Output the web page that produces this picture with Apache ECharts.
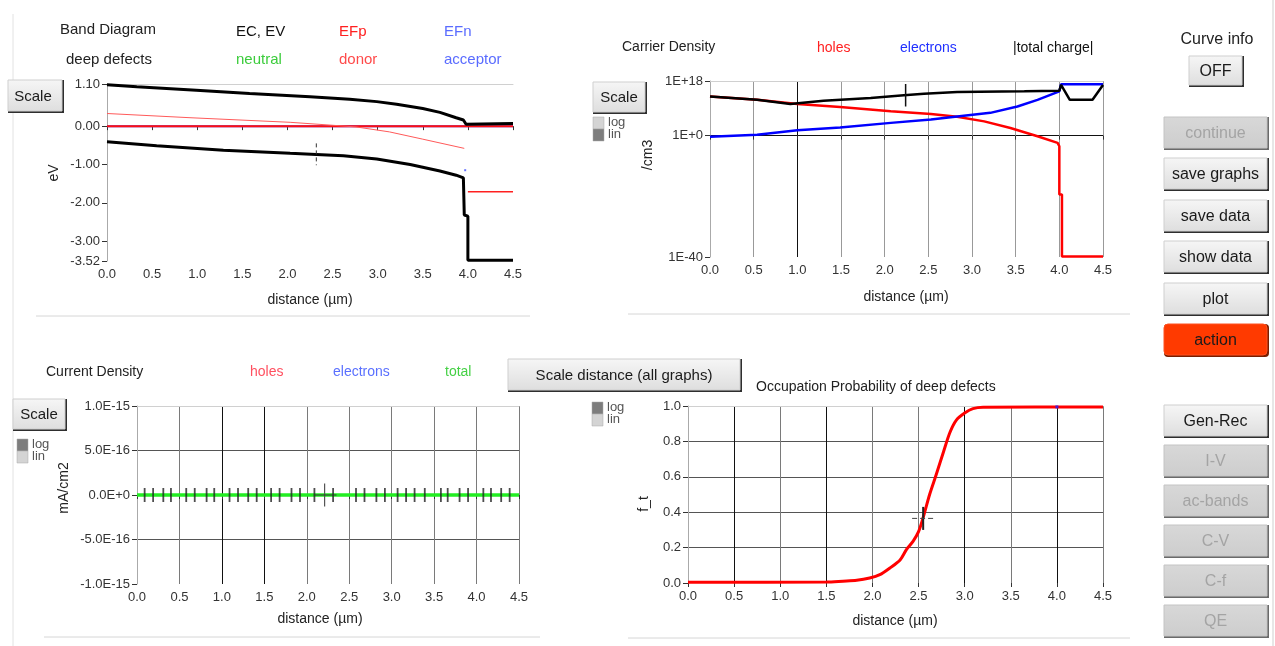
<!DOCTYPE html>
<html><head><meta charset="utf-8">
<script src="https://cdn.jsdelivr.net/npm/echarts@6/dist/echarts.min.js"></script>
<style>html,body{margin:0;padding:0;background:#fff;overflow:hidden}#c{width:1275px;height:646px;}</style>
</head><body><div id="c"></div>
<script>
// ---------------- DATA ----------------
// Band diagram (eV vs distance um)
const ecX = [0, 0.33, 0.99, 1.58, 2.25, 2.69, 2.99, 3.21, 3.50, 3.69, 3.87, 3.95, 3.98, 4.5];
const ecY = [1.08, 1.03, 0.94, 0.85, 0.77, 0.70, 0.64, 0.57, 0.46, 0.36, 0.22, 0.16, 0.05, 0.07];
const evX = [0, 0.55, 1.29, 2.03, 2.32, 2.62, 2.99, 3.36, 3.69, 3.87, 3.95, 3.96, 4.0, 4.0, 4.5];
const evY = [-0.41, -0.51, -0.63, -0.71, -0.74, -0.77, -0.86, -1.00, -1.17, -1.28, -1.35, -2.32, -2.35, -3.50, -3.50];
const efX = [0, 4.5];
const efpY = [0, 0];
const efnY = [0, 0];
const donorX = [0, 0.92, 2.03, 2.76, 3.13, 3.50, 3.96];
const donorY = [0.33, 0.22, 0.10, -0.02, -0.15, -0.34, -0.58];
const donorNX = [4.0, 4.5];
const donorNY = [-1.71, -1.71];
const acceptorX = [3.97];
const acceptorY = [-1.15];
const bandCursorX = [2.32, 2.32];
const bandCursorY = [-0.45, -1.02];
const bandTicks = [-3.52, -3, -2, -1, 0, 1.1];

// Carrier density (log10 of /cm3)
const holesX = [0, 0.54, 0.92, 1.0, 1.49, 2.07, 2.53, 2.83, 3.14, 3.44, 3.75, 3.98, 4.0, 4.0, 4.03, 4.03, 4.5];
const holesY = [12.9, 11.8, 10.7, 10.4, 9.4, 8.0, 7.1, 6.2, 4.7, 2.5, -0.2, -2.4, -3.5, -19.4, -19.4, -39.8, -39.8];
const electronsX = [0, 0.54, 1.0, 1.49, 2.07, 2.53, 2.83, 3.21, 3.52, 3.75, 4.0, 4.02, 4.5];
const electronsY = [-0.4, 0.3, 1.8, 2.7, 4.2, 5.3, 6.3, 7.5, 9.6, 11.8, 14.6, 16.9, 16.9];
const chargeX = [0, 0.54, 0.92, 1.30, 1.84, 2.22, 2.45, 2.83, 3.6, 4.0, 4.02, 4.12, 4.38, 4.5];
const chargeY = [12.9, 11.8, 10.4, 11.5, 12.4, 13.3, 13.8, 14.4, 14.6, 14.8, 16.7, 11.8, 11.8, 16.7];
const carrierCursorX = [2.24, 2.24];
const carrierCursorY = [17.0, 9.6];
const carrierTicks = [-40, 0, 18];

// Current density (mA/cm2)
const currentX = [0, 4.5];
const currentHoles = [0, 0];
const currentElectrons = [0, 0];
const currentTotal = [0, 0];
const currentMarksX = [0.09, 0.19, 0.31, 0.40, 0.58, 0.68, 0.82, 0.91, 1.09, 1.19, 1.31, 1.41, 1.58, 1.68, 1.82, 1.92, 2.09,
  2.31, 2.58, 2.68, 2.82, 2.92, 3.07, 3.17, 3.27, 3.39, 3.58, 3.66, 3.80, 3.90, 4.08, 4.17, 4.29, 4.39];
const currentCursorX = [2.21, 2.21];
const currentCursorY = [1.3e-16, -1.3e-16];
const currentCursorHX = [2.09, 2.35];
const currentCursorHY = [0, 0];

// Occupation probability f_t
const ftX = [0, 1.5, 1.68, 1.83, 1.97, 2.08, 2.19, 2.30, 2.37, 2.44, 2.50, 2.55, 2.62, 2.69, 2.77, 2.84, 2.91, 3.0, 3.09, 3.2, 4.5];
const ftY = [0.004, 0.005, 0.01, 0.015, 0.028, 0.047, 0.085, 0.13, 0.19, 0.235, 0.29, 0.37, 0.50, 0.61, 0.74, 0.85, 0.92, 0.96, 0.985, 0.993, 0.995];
const ftAccX = [4.0];
const ftAccY = [0.995];
const ftCursorX = [2.55, 2.55];
const ftCursorY = [0.43, 0.30];
const ftCursorHX = [2.43, 2.67];
const ftCursorHY = [0.365, 0.365];

// ---------------- HELPERS ----------------
const FONT = '"Liberation Sans", Arial, sans-serif';
const zip = (xs, ys) => xs.map((x, i) => [x, ys[i]]);
const line = (name, xs, ys, color, width, gi, extra) => Object.assign({
  type: 'line', name, data: zip(xs, ys), xAxisIndex: gi * 2, yAxisIndex: gi,
  symbol: 'none', silent: true, animation: false,
  lineStyle: { color, width }, z: 3
}, extra || {});

const xAxisPair = (gi, splitColors) => [
  {
    type: 'value', gridIndex: gi, min: 0, max: 4.5, interval: 0.5, position: 'bottom',
    axisLine: { show: false },
    axisTick: { show: true, length: 4, lineStyle: { color: '#333' } },
    axisLabel: { color: '#333', fontSize: 13, fontFamily: FONT, margin: 7, formatter: v => v.toFixed(1) },
    splitLine: splitColors ? { show: true, lineStyle: { color: splitColors, width: 1 } } : { show: false }
  },
  {
    type: 'value', gridIndex: gi, min: 0, max: 4.5, position: 'top',
    axisLine: { show: true, lineStyle: { color: '#d0d0d0', width: 1 } },
    axisTick: { show: false }, axisLabel: { show: false }, splitLine: { show: false }
  }
];

const ticksLabel = { color: '#333', fontSize: 13, fontFamily: FONT, margin: 7 };

// Buttons
function gradient(a, b) {
  return new echarts.graphic.LinearGradient(0, 0, 0, 1, [{ offset: 0, color: a }, { offset: 1, color: b }]);
}
function button(x, y, w, h, label, o) {
  o = o || {};
  const r = o.r || 0;
  return [
    { type: 'rect', shape: { x: x, y: y, width: w, height: h, r }, style: { fill: o.shadow || '#2e2e2e' }, z: 10 },
    { type: 'rect', shape: { x: x, y: y, width: w - 2, height: h - 2, r },
      style: { fill: o.face || gradient('#f6f6f6', '#dedede'), stroke: o.edge || '#cfcfcf', lineWidth: 1 }, z: 11 },
    { type: 'text', x: x + (w - 2) / 2 + (o.dx || 0), y: y + (h - 2) / 2 + 1, z: 12,
      style: { text: label, fill: o.color || '#1a1a1a', font: (o.size || 16) + 'px ' + FONT, align: 'center', verticalAlign: 'middle' } }
  ];
}
const disabled = { face: gradient('#d8d8d8', '#cdcdcd'), shadow: '#6a6a6a', edge: '#c4c4c4', color: '#a4a4a4' };
function txt(x, y, s, color, size, align) {
  return { type: 'text', x, y, z: 12,
    style: { text: s, fill: color, font: (size || 15) + 'px ' + FONT, align: align || 'left', verticalAlign: 'middle' } };
}
function vtxt(x, y, s, size) {
  return { type: 'text', x, y, rotation: Math.PI / 2, z: 12,
    style: { text: s, fill: '#222', font: (size || 14) + 'px ' + FONT, align: 'center', verticalAlign: 'middle' } };
}
function toggle(x, y, topDark) {
  const dark = '#7d7d7d', light = '#d4d4d4';
  return [
    { type: 'rect', shape: { x, y, width: 11, height: 12 }, style: { fill: topDark ? dark : light, stroke: '#aaa', lineWidth: 0.5 }, z: 11 },
    { type: 'rect', shape: { x, y: y + 12, width: 11, height: 12 }, style: { fill: topDark ? light : dark, stroke: '#aaa', lineWidth: 0.5 }, z: 11 },
    txt(x + 15, y + 5, 'log', '#555', 13),
    txt(x + 15, y + 17, 'lin', '#555', 13)
  ];
}
function hline(x1, x2, y, c) { return { type: 'line', shape: { x1, y1: y, x2, y2: y }, style: { stroke: c || '#d6d6d6', lineWidth: 1 }, z: 1 }; }
function vline(x, y1, y2, c) { return { type: 'line', shape: { x1: x, y1, x2: x, y2 }, style: { stroke: c || '#d6d6d6', lineWidth: 1 }, z: 1 }; }

// ---------------- OPTION ----------------
const G = '#7a7a7a', K = '#111';
const option = {
  animation: false,
  backgroundColor: '#fff',
  grid: [
    { left: 107, top: 84, width: 406, height: 177 },
    { left: 710, top: 81, width: 393, height: 176 },
    { left: 137, top: 406, width: 382, height: 178 },
    { left: 688, top: 406, width: 415, height: 177 }
  ],
  xAxis: [].concat(
    xAxisPair(0, null),
    xAxisPair(1, ['#aaa', '#999', K, '#999', '#999', '#999', '#999', '#999', '#999', '#999']),
    xAxisPair(2, ['#aaa', G, K, K, G, G, G, G, G, G]),
    xAxisPair(3, ['#aaa', K, G, K, G, G, K, G, K, G])
  ),
  yAxis: [
    { type: 'value', gridIndex: 0, min: -3.52, max: 1.1,
      axisLine: { show: true, lineStyle: { color: '#aaa' } },
      axisTick: { show: true, length: 5, customValues: bandTicks, lineStyle: { color: '#333' } },
      axisLabel: Object.assign({ customValues: bandTicks, formatter: v => v.toFixed(2) }, ticksLabel),
      splitLine: { show: false } },
    { type: 'value', gridIndex: 1, min: -40, max: 18,
      axisLine: { show: true, lineStyle: { color: '#aaa' } },
      axisTick: { show: true, length: 5, customValues: carrierTicks, lineStyle: { color: '#333' } },
      axisLabel: Object.assign({ customValues: carrierTicks, formatter: v => '1E' + (v >= 0 ? '+' : '') + v }, ticksLabel),
      splitLine: { show: true, lineStyle: { color: ['rgba(0,0,0,0)', K, '#d0d0d0'] } } },
    { type: 'value', gridIndex: 2, min: -1e-15, max: 1e-15, interval: 5e-16,
      axisLine: { show: true, lineStyle: { color: '#aaa' } },
      axisTick: { show: true, length: 5, lineStyle: { color: '#333' } },
      axisLabel: Object.assign({ formatter: v => Math.abs(v) < 1e-20 ? '0.0E+0' : v.toExponential(1).toUpperCase() }, ticksLabel),
      splitLine: { show: true, lineStyle: { color: ['rgba(0,0,0,0)', '#555', '#555', '#555', '#d0d0d0'] } } },
    { type: 'value', gridIndex: 3, min: 0, max: 1, interval: 0.2,
      axisLine: { show: true, lineStyle: { color: '#aaa' } },
      axisTick: { show: true, length: 5, lineStyle: { color: '#333' } },
      axisLabel: Object.assign({ formatter: v => v.toFixed(1) }, ticksLabel),
      splitLine: { show: true, lineStyle: { color: ['rgba(0,0,0,0)', '#555', '#555', '#555', '#555', '#d0d0d0'] } } }
  ],
  series: [
    // Band diagram
    line('EFn', efX, efnY, '#3030ff', 2, 0, { z: 2 }),
    line('EFp', efX, efpY, '#ff1010', 2, 0, { z: 3 }),
    line('donor', donorX, donorY, '#ff5a5a', 1, 0),
    line('donor n', donorNX, donorNY, '#ff2020', 1.5, 0),
    line('EC', ecX, ecY, '#000', 3, 0, { z: 4 }),
    line('EV', evX, evY, '#000', 3, 0, { z: 4 }),
    { type: 'scatter', data: zip(acceptorX, acceptorY), xAxisIndex: 0, yAxisIndex: 0, symbol: 'rect', symbolSize: 2,
      itemStyle: { color: '#4050ff' }, silent: true, animation: false },
    line('cursor', bandCursorX, bandCursorY, '#333', 1, 0, { lineStyle: { color: '#333', width: 1, type: [4, 3] }, z: 5 }),
    // Carrier density
    line('holes', holesX, holesY, '#ff0000', 2.5, 1),
    line('electrons', electronsX, electronsY, '#0000ff', 2.5, 1, { z: 4 }),
    line('|total charge|', chargeX, chargeY, '#000', 2.5, 1, { z: 5 }),
    line('cursor2', carrierCursorX, carrierCursorY, '#111', 1.5, 1, { z: 6 }),
    // Current density
    line('holes J', currentX, currentHoles, '#ff3030', 2, 2),
    line('electrons J', currentX, currentElectrons, '#3040ff', 2, 2),
    line('total J', currentX, currentTotal, '#22ee22', 3.5, 2, { z: 4 }),
    { type: 'scatter', data: currentMarksX.map(x => [x, 0]), xAxisIndex: 4, yAxisIndex: 2, symbol: 'rect', symbolSize: [1.8, 14],
      itemStyle: { color: '#222' }, silent: true, animation: false, z: 5 },
    line('cursor3', currentCursorX, currentCursorY, '#555', 1.2, 2, { z: 6 }),
    line('cursor3h', currentCursorHX, currentCursorHY, '#333', 1, 2, { z: 6 }),
    // Occupation probability
    line('f_t', ftX, ftY, '#ff0000', 3, 3, { z: 4, smooth: 0.3 }),
    { type: 'scatter', data: zip(ftAccX, ftAccY), xAxisIndex: 6, yAxisIndex: 3, symbol: 'rect', symbolSize: 3,
      itemStyle: { color: '#2020ff' }, silent: true, animation: false, z: 5 },
    line('cursor4', ftCursorX, ftCursorY, '#222', 2, 3, { z: 6 }),
    line('cursor4h', ftCursorHX, ftCursorHY, '#444', 1, 3, { z: 6, lineStyle: { color: '#444', width: 1, type: [5, 3] } })
  ],
  graphic: [].concat(
    // panel frames
    [vline(13, 14, 646, '#e2e2e2'), vline(1273, 0, 646, '#cfcfcf'),
     hline(36, 530, 316), hline(628, 1130, 314), hline(44, 540, 637), hline(628, 1130, 638)],
    // Band diagram texts
    [txt(60, 30, 'Band Diagram', '#222'), txt(236, 32, 'EC, EV', '#111'), txt(339, 32, 'EFp', '#ff2020'), txt(444, 32, 'EFn', '#5a6cff'),
     txt(66, 60, 'deep defects', '#222'), txt(236, 60, 'neutral', '#3ccc3c'), txt(339, 60, 'donor', '#ff4a4a'), txt(444, 60, 'acceptor', '#5a6cff'),
     vtxt(54, 173, 'eV'), txt(310, 300, 'distance (µm)', '#222', 14, 'center')],
    button(8, 80, 56, 33, 'Scale', { size: 15, dx: -2 }),
    // Carrier density texts
    [txt(622, 47, 'Carrier Density', '#222', 14), txt(817, 48, 'holes', '#ff2020', 14), txt(900, 48, 'electrons', '#2030ff', 14),
     txt(1013, 48, '|total charge|', '#111', 14),
     vtxt(648, 155, '/cm3'), txt(906, 297, 'distance (µm)', '#222', 14, 'center')],
    button(593, 82, 54, 32, 'Scale', { size: 15 }),
    toggle(593, 117, false),
    // Current density texts
    [txt(46, 372, 'Current Density', '#222', 14), txt(250, 372, 'holes', '#ff5060', 14), txt(333, 372, 'electrons', '#5a70ff', 14),
     txt(445, 372, 'total', '#45d045', 14),
     vtxt(64, 488, 'mA/cm2'), txt(320, 619, 'distance (µm)', '#222', 14, 'center')],
    button(13, 399, 54, 32, 'Scale', { size: 15 }),
    toggle(17, 439, true),
    button(508, 359, 234, 33, 'Scale distance (all graphs)', { size: 15 }),
    // Occupation texts
    [txt(756, 387, 'Occupation Probability of deep defects', '#222', 14),
     vtxt(644, 504, 'f_t'), txt(895, 621, 'distance (µm)', '#222', 14, 'center')],
    toggle(592, 402, true),
    // Right panel
    [txt(1217, 40, 'Curve info', '#222', 16, 'center')],
    button(1189, 56, 55, 31, 'OFF'),
    button(1164, 117, 105, 33, 'continue', disabled),
    button(1164, 158, 105, 33, 'save graphs'),
    button(1164, 200, 105, 33, 'save data'),
    button(1164, 241, 105, 33, 'show data'),
    button(1164, 283, 105, 33, 'plot'),
    button(1164, 324, 105, 33, 'action', { r: 4, face: '#ff3a00', shadow: '#7a1e00', edge: '#ff5020' }),
    button(1164, 405, 105, 33, 'Gen-Rec'),
    button(1164, 445, 105, 33, 'I-V', disabled),
    button(1164, 485, 105, 33, 'ac-bands', disabled),
    button(1164, 525, 105, 33, 'C-V', disabled),
    button(1164, 565, 105, 33, 'C-f', disabled),
    button(1164, 605, 105, 33, 'QE', disabled)
  )
};
const chart = echarts.init(document.getElementById('c'), null, { renderer: 'canvas' });
chart.setOption(option);
</script>
</body></html>
